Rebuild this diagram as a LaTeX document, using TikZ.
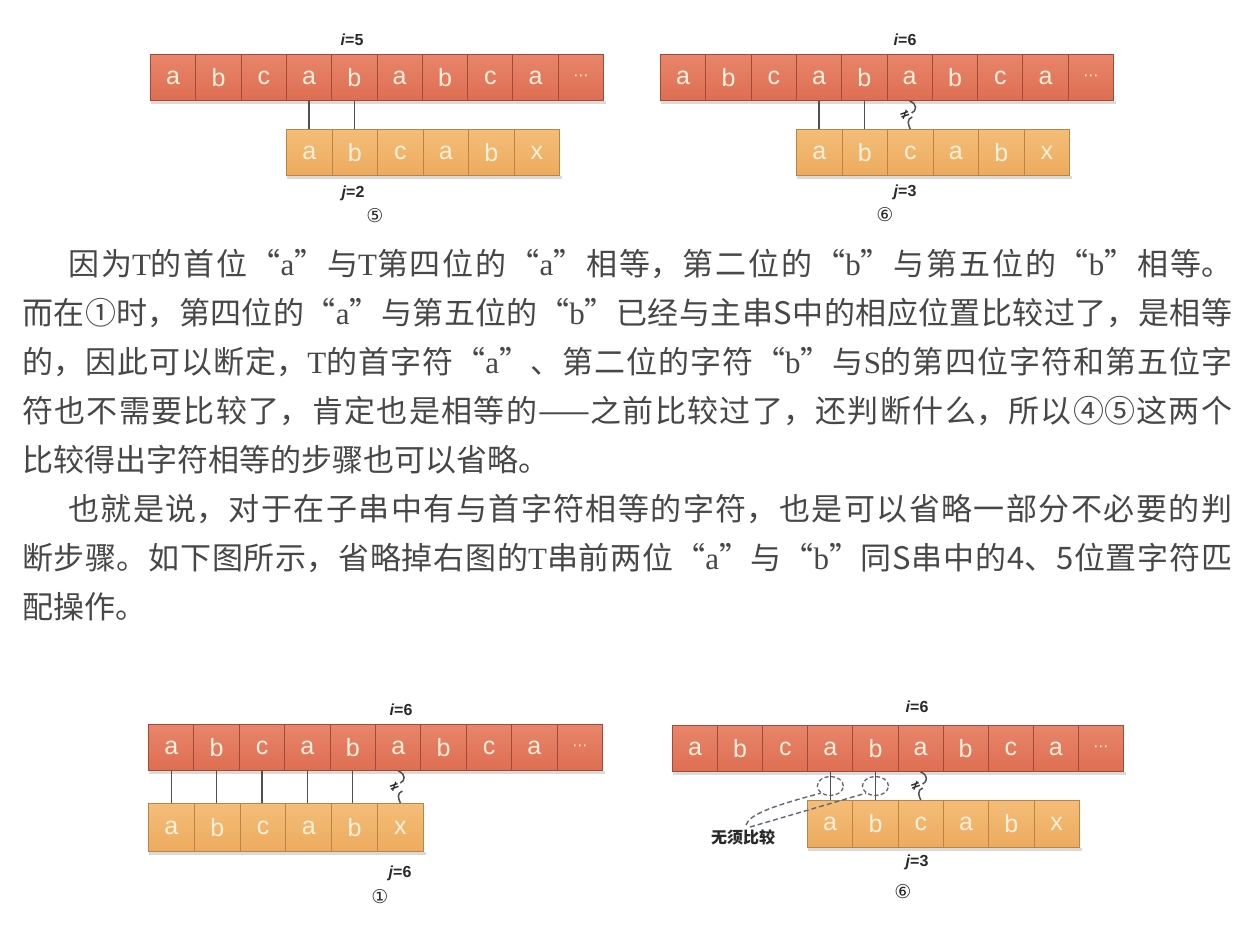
\documentclass[tikz,border=0pt]{standalone}
\usepackage{fontspec}
\setmainfont{Liberation Serif}
\newfontfamily\cjk{Noto Sans CJK SC}
\newfontfamily\latf{Liberation Serif}
\newfontfamily\lsans{Liberation Sans}
\newfontfamily\djv{DejaVu Sans}
\usetikzlibrary{calc,shapes.geometric}
\XeTeXlinebreaklocale "zh"
\XeTeXlinebreakskip=0pt plus 8pt
\definecolor{topfill}{HTML}{DE6E52}
\definecolor{toplight}{HTML}{E8856A}
\definecolor{topedge}{HTML}{A04A37}
\definecolor{botfill}{HTML}{EDAB5E}
\definecolor{botlight}{HTML}{F4BD78}
\definecolor{botedge}{HTML}{B98546}
\definecolor{celltxt}{HTML}{FBF0DC}
\definecolor{ink}{HTML}{2A2A2A}
\definecolor{bodyc}{HTML}{474747}
\definecolor{linkc}{HTML}{505050}
\definecolor{dashc}{HTML}{5E6678}
\definecolor{shadowc}{HTML}{DADADA}
\newcommand\lat[1]{{\latf #1}}
\newcommand\cellfont{\lsans\fontsize{25}{30}\selectfont}
\newcommand\lblfont{\lsans\bfseries\fontsize{16}{19}\selectfont}
\newcommand\circfont{\djv\fontsize{19}{22}\selectfont}
\newcommand\bodyfont{\cjk\fontsize{31}{44}\selectfont}
\newcommand\dotsym{{\djv\fontsize{15}{15}\selectfont ⋯}}
\newcommand\neqlink[2]{%
  \draw[link, line width=1.5pt] (#1) .. controls ($(#1)+(8,3)$) and ($(#1)+(7,10)$) .. ($(#1)+(2,12)$);
  \draw[link, line width=1.5pt] ($(#2)+(2,-12)$) .. controls ($(#2)+(-4,-10)$) and ($(#2)+(-2,-4)$) .. (#2);
  \node[neqmark] at ($(#1)!0.5!(#2)+(-5,0)$) {≠};
}
\newcommand\rowshadow[2]{%
  \fill[shadowc] ($(#1.south west)+(1,0)$) rectangle ($(#2.south east)+(2,3)$);
}
\begin{document}
\begin{tikzpicture}[x=1pt,y=-1pt,
  tcell/.style={draw=topedge, top color=toplight, bottom color=topfill, line width=1pt,
    minimum width=45.3pt, minimum height=46pt, inner sep=0pt, anchor=north west,
    text=celltxt, font=\cellfont},
  bcell/.style={draw=botedge, top color=botlight, bottom color=botfill, line width=1pt,
    minimum width=45.5pt, minimum height=46pt, inner sep=0pt, anchor=north west,
    text=celltxt, font=\cellfont},
  link/.style={draw=linkc, line width=1.2pt},
  lbl/.style={font=\lblfont, text=ink, inner sep=1pt},
  circ/.style={font=\circfont, text=ink, inner sep=1pt},
  neqmark/.style={font=\djv\bfseries\fontsize{13}{13}\selectfont, text=ink, inner sep=0pt, rotate=20},
  ell/.style={ellipse, draw=dashc, dash pattern=on 4pt off 2.5pt, line width=1.3pt, minimum width=26pt, minimum height=19pt, inner sep=0pt},
  dashl/.style={draw=dashc, dash pattern=on 5pt off 3pt, line width=1.4pt},
  para/.style={anchor=base west, inner sep=0pt, text width=1210pt, align=justify, font=\bodyfont, text=bodyc}
]
\useasboundingbox (0,0) rectangle (1253,928);
\fill[white] (0,0) rectangle (1253,928);

% ---------- diagram 5 (top left)
\foreach \c [count=\k] in {a,b,c,a,b,a,b,c,a,\dotsym}
  \node[tcell] (sa\k) at ({150+45.3*(\k-1)},54) {\c};
\foreach \c [count=\k] in {a,b,c,a,b,x}
  \node[bcell] (ta\k) at ({286+45.5*(\k-1)},129) {\c};
\rowshadow{sa1}{sa10}
\rowshadow{ta1}{ta6}
\draw[link] (sa4.south) -- (sa4.south |- ta1.north);
\draw[link] (sa5.south) -- (sa5.south |- ta2.north);
\node[lbl] (ia) at (352,40) {\textit{i}=5};
\node[lbl] (ja) at (353,193) {\textit{j}=2};
\node[circ] (na) at (375,216) {⑤};

% ---------- diagram 6 (top right)
\foreach \c [count=\k] in {a,b,c,a,b,a,b,c,a,\dotsym}
  \node[tcell] (sb\k) at ({660+45.3*(\k-1)},54) {\c};
\foreach \c [count=\k] in {a,b,c,a,b,x}
  \node[bcell] (tb\k) at ({796+45.5*(\k-1)},129) {\c};
\rowshadow{sb1}{sb10}
\rowshadow{tb1}{tb6}
\draw[link] (sb4.south) -- (sb4.south |- tb1.north);
\draw[link] (sb5.south) -- (sb5.south |- tb2.north);
\neqlink{sb6.south}{tb3.north}
\node[lbl] (ib) at (905,40) {\textit{i}=6};
\node[lbl] (jb) at (905,192) {\textit{j}=3};
\node[circ] (nb) at (885,215) {⑥};

% ---------- text
\node[para] (l1) at (22,275) {\parfillskip=0pt\hspace*{46pt}因为\lat{T}的首位“\lat{a}”与\lat{T}第四位的“\lat{a}”相等，第二位的“\lat{b}”与第五位的“\lat{b}”相等。\par};
\node[para] (l2) at (22,324) {\parfillskip=0pt 而在①时，第四位的“\lat{a}”与第五位的“\lat{b}”已经与主串S中的相应位置比较过了，是相等\par};
\node[para] (l3) at (22,373) {\parfillskip=0pt 的，因此可以断定，\lat{T}的首字符“\lat{a}”、第二位的字符“\lat{b}”与\lat{S}的第四位字符和第五位字\par};
\node[para] (l4) at (22,422) {\parfillskip=0pt 符也不需要比较了，肯定也是相等的——之前比较过了，还判断什么，所以④⑤这两个\par};
\node[para] (l5) at (22,471) {比较得出字符相等的步骤也可以省略。};
\node[para] (l6) at (22,520) {\parfillskip=0pt\hspace*{46pt}也就是说，对于在子串中有与首字符相等的字符，也是可以省略一部分不必要的判\par};
\node[para] (l7) at (22,569) {\parfillskip=0pt 断步骤。如下图所示，省略掉右图的\lat{T}串前两位“\lat{a}”与“\lat{b}”同S串中的4、5位置字符匹\par};
\node[para] (l8) at (22,618) {配操作。};

% ---------- diagram 1 (bottom left)
\foreach \c [count=\k] in {a,b,c,a,b,a,b,c,a,\dotsym}
  \node[tcell, minimum width=45.4pt] (sc\k) at ({148+45.4*(\k-1)},724) {\c};
\foreach \c [count=\k] in {a,b,c,a,b,x}
  \node[bcell, minimum width=45.8pt, minimum height=48pt] (tc\k) at ({148+45.8*(\k-1)},803) {\c};
\rowshadow{sc1}{sc10}
\rowshadow{tc1}{tc6}
\foreach \k in {1,...,5}
  \draw[link] (sc\k.south) -- (sc\k.south |- tc\k.north);
\neqlink{sc6.south}{tc6.north}
\node[lbl] (ic) at (401,710) {\textit{i}=6};
\node[lbl] (jc) at (400,873) {\textit{j}=6};
\node[circ] (nc) at (380,897) {①};

% ---------- diagram 6 (bottom right)
\foreach \c [count=\k] in {a,b,c,a,b,a,b,c,a,\dotsym}
  \node[tcell, minimum width=45.1pt] (sd\k) at ({672+45.1*(\k-1)},725) {\c};
\foreach \c [count=\k] in {a,b,c,a,b,x}
  \node[bcell, minimum width=45.3pt, minimum height=47pt] (td\k) at ({807+45.3*(\k-1)},800) {\c};
\rowshadow{sd1}{sd10}
\rowshadow{td1}{td6}
\draw[link] (sd4.south) -- (sd4.south |- td1.north) coordinate[midway] (m1);
\draw[link] (sd5.south) -- (sd5.south |- td2.north) coordinate[midway] (m2);
\neqlink{sd6.south}{td3.north}
\node[ell] (e1) at (m1) {};
\node[ell] (e2) at (m2) {};
\node[font=\cjk\bfseries\fontsize{16}{19}\selectfont, text=ink, inner sep=1pt] (wx) at (743,837) {无须比较};
\draw[dashl] ($(wx.north)+(3,-3)$) .. controls ($(wx.north)+(6,-14)$) and ($(e1.south west)+(-45,12)$) .. (e1.south west);
\draw[dashl] ($(wx.north)+(7,-1)$) -- (e2.south west);
\node[lbl] (id) at (917,707) {\textit{i}=6};
\node[lbl] (jd) at (917,862) {\textit{j}=3};
\node[circ] (nd) at (903,892) {⑥};
\end{tikzpicture}
\end{document}
